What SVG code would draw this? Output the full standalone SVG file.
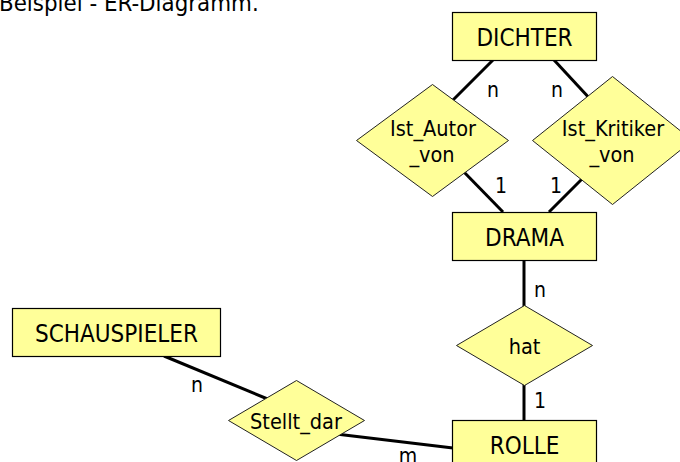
<svg xmlns="http://www.w3.org/2000/svg" width="680" height="462" viewBox="0 0 680 462">
  <style>
    text { font-family: "DejaVu Sans Condensed", "DejaVu Sans", sans-serif; fill: #000; }
    .entity rect { fill: #FFFF99; stroke: #000; stroke-width: 1.2; }
    .relation polygon { fill: #FFFF99; stroke: #222; stroke-width: 1; }
    .ename { font-size: 24px; text-anchor: middle; }
    .rname { font-size: 21.5px; text-anchor: middle; }
    .card { font-size: 21px; text-anchor: middle; }
    #connectors line { stroke: #000; stroke-width: 3; stroke-linecap: butt; }
  </style>

  <rect width="680" height="462" fill="#fff"/>

  <text x="-1" y="10.5" style="font-size:23.8px">Beispiel - ER-Diagramm.</text>

  <!-- connectors drawn first, shapes cover their ends -->
  <g id="connectors">
    <line x1="493" y1="60" x2="450" y2="103"/>
    <line x1="554" y1="60" x2="592" y2="101"/>
    <line x1="462" y1="170" x2="503" y2="212"/>
    <line x1="586" y1="175" x2="549" y2="212"/>
    <line x1="524" y1="260" x2="524" y2="310"/>
    <line x1="524" y1="380" x2="524" y2="420"/>
    <line x1="164" y1="356" x2="270" y2="400"/>
    <line x1="336" y1="434" x2="453" y2="448"/>
  </g>

  <!-- cardinalities -->
  <g id="cardinalities">
    <text class="card" x="493" y="97">n</text>
    <text class="card" x="557" y="97">n</text>
    <text class="card" x="501" y="193">1</text>
    <text class="card" x="556" y="193">1</text>
    <text class="card" x="540" y="297">n</text>
    <text class="card" x="540" y="408">1</text>
    <text class="card" x="197" y="392">n</text>
    <text class="card" x="408" y="463">m</text>
  </g>

  <g id="dichter" class="entity">
    <rect x="452.5" y="12.5" width="144" height="48"/>
    <text class="ename" x="524.5" y="45.5">DICHTER</text>
  </g>

  <g id="ist_autor_von" class="relation">
    <polygon points="432.5,84.5 508.5,140.5 432.5,196.5 356.5,140.5"/>
    <text class="rname" x="433" y="136">Ist_Autor</text>
    <text class="rname" x="432" y="162">_von</text>
  </g>

  <g id="ist_kritiker_von" class="relation">
    <polygon points="612.5,76.5 692.5,140.5 612.5,204.5 532.5,140.5"/>
    <text class="rname" x="613" y="136">Ist_Kritiker</text>
    <text class="rname" x="612" y="162">_von</text>
  </g>

  <g id="drama" class="entity">
    <rect x="452.5" y="212.5" width="144" height="48"/>
    <text class="ename" x="524.5" y="245.5">DRAMA</text>
  </g>

  <g id="hat" class="relation">
    <polygon points="524.5,305.5 592.5,345.5 524.5,385.5 456.5,345.5"/>
    <text class="rname" x="524.5" y="354">hat</text>
  </g>

  <g id="schauspieler" class="entity">
    <rect x="12.5" y="308.5" width="208" height="48"/>
    <text class="ename" x="116.5" y="341.5">SCHAUSPIELER</text>
  </g>

  <g id="stellt_dar" class="relation">
    <polygon points="296.5,380.5 364.5,420.5 296.5,460.5 228.5,420.5"/>
    <text class="rname" x="296" y="429">Stellt_dar</text>
  </g>

  <g id="rolle" class="entity">
    <rect x="452.5" y="420.5" width="144" height="48"/>
    <text class="ename" x="524.5" y="453.5">ROLLE</text>
  </g>
</svg>
